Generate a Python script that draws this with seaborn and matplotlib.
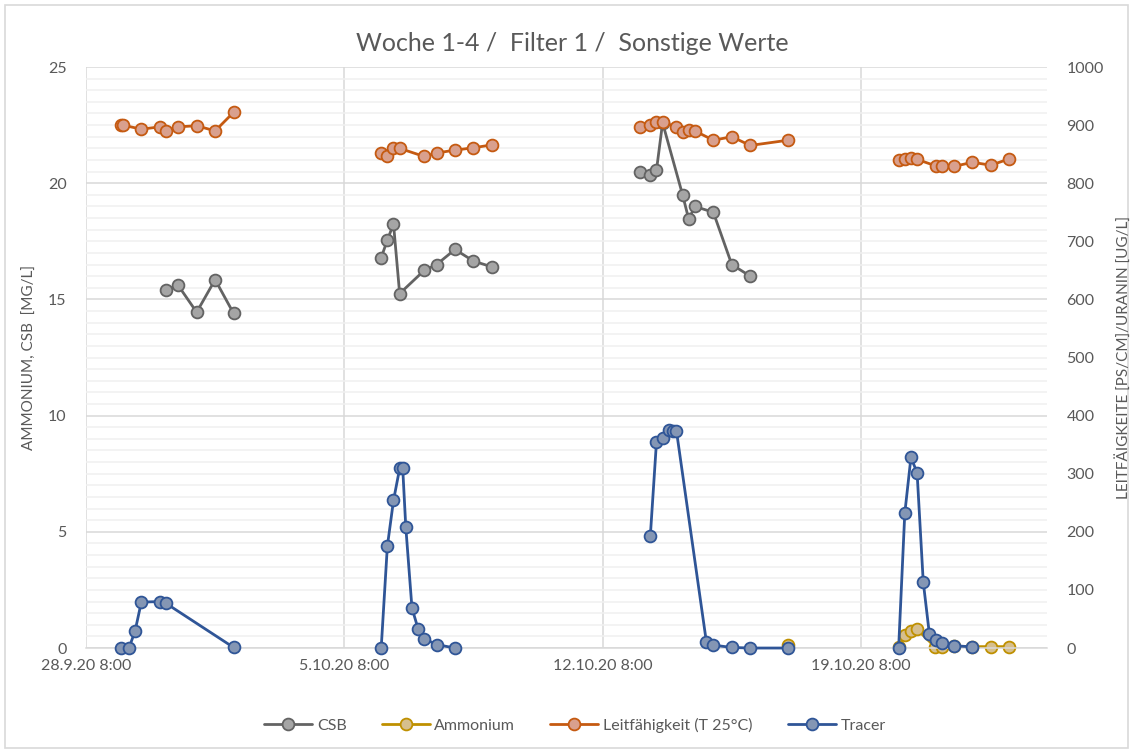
import matplotlib
matplotlib.use("Agg")
import matplotlib.pyplot as plt
import matplotlib.dates as mdates
from matplotlib.ticker import MultipleLocator, FixedLocator
from matplotlib.lines import Line2D
from matplotlib.patches import Rectangle
import pandas as pd
import seaborn as sns

# ---------------- data ----------------
csb_time = ["2020-09-30 12:00", "2020-09-30 20:00", "2020-10-01 08:00", "2020-10-01 20:00", "2020-10-02 08:00",
            "2020-10-06 08:00", "2020-10-06 12:00", "2020-10-06 16:00", "2020-10-06 20:00", "2020-10-07 12:00",
            "2020-10-07 20:00", "2020-10-08 08:00", "2020-10-08 20:00", "2020-10-09 08:00",
            "2020-10-13 08:00", "2020-10-13 15:00", "2020-10-13 19:00", "2020-10-13 23:00", "2020-10-14 12:00",
            "2020-10-14 16:00", "2020-10-14 20:00", "2020-10-15 08:00", "2020-10-15 20:00", "2020-10-16 08:00"]
csb_vals = [15.4, 15.6, 14.45, 15.85, 14.4,
            16.8, 17.55, 18.25, 15.25, 16.25, 16.5, 17.15, 16.65, 16.4,
            20.5, 20.35, 20.55, 22.6, 19.5, 18.45, 19.0, 18.75, 16.5, 16.0]

amm_time = ["2020-10-17 08:30",
            "2020-10-20 08:30", "2020-10-20 12:30", "2020-10-20 16:30", "2020-10-20 20:30", "2020-10-21 08:00",
            "2020-10-21 12:30", "2020-10-21 20:30", "2020-10-22 08:30", "2020-10-22 20:30", "2020-10-23 08:30"]
amm_vals = [0.15,
            0.06, 0.55, 0.75, 0.8, 0.06, 0.06, 0.08, 0.06, 0.06, 0.06]

lf_time = ["2020-09-29 06:30", "2020-09-29 08:00", "2020-09-29 20:00", "2020-09-30 08:00", "2020-09-30 12:00",
           "2020-09-30 20:00", "2020-10-01 08:00", "2020-10-01 20:00", "2020-10-02 08:00",
           "2020-10-06 08:00", "2020-10-06 12:00", "2020-10-06 16:00", "2020-10-06 20:00", "2020-10-07 12:00",
           "2020-10-07 20:00", "2020-10-08 08:00", "2020-10-08 20:00", "2020-10-09 08:00",
           "2020-10-13 08:00", "2020-10-13 15:00", "2020-10-13 19:00", "2020-10-13 23:00", "2020-10-14 08:00",
           "2020-10-14 12:00", "2020-10-14 16:00", "2020-10-14 20:00", "2020-10-15 08:00", "2020-10-15 20:00",
           "2020-10-16 08:00", "2020-10-17 08:30",
           "2020-10-20 08:30", "2020-10-20 12:30", "2020-10-20 16:30", "2020-10-20 20:30", "2020-10-21 08:30",
           "2020-10-21 12:30", "2020-10-21 20:30", "2020-10-22 08:30", "2020-10-22 20:30", "2020-10-23 08:30"]
lf_vals = [900, 900, 893, 897, 890, 897, 899, 890, 922,
           852, 847, 860, 860, 846, 852, 857, 861, 866,
           896, 901, 905, 905, 897, 889, 892, 890, 874, 880, 865, 874,
           840, 841, 843, 841, 830, 830, 829, 836, 831, 842]

tr_time = ["2020-09-29 07:00", "2020-09-29 12:00", "2020-09-29 16:00", "2020-09-29 20:00", "2020-09-30 08:00",
           "2020-09-30 12:00", "2020-10-02 08:00",
           "2020-10-06 08:00", "2020-10-06 12:00", "2020-10-06 16:00", "2020-10-06 20:00", "2020-10-06 22:00",
           "2020-10-07 00:00", "2020-10-07 04:00", "2020-10-07 08:00", "2020-10-07 12:00", "2020-10-07 20:00",
           "2020-10-08 08:00",
           "2020-10-13 15:00", "2020-10-13 19:00", "2020-10-13 23:00", "2020-10-14 03:00", "2020-10-14 06:00",
           "2020-10-14 08:00", "2020-10-15 03:30", "2020-10-15 08:00", "2020-10-15 20:00", "2020-10-16 08:00",
           "2020-10-17 08:30",
           "2020-10-20 08:30", "2020-10-20 12:30", "2020-10-20 16:30", "2020-10-20 20:30", "2020-10-21 00:30",
           "2020-10-21 04:30", "2020-10-21 08:30", "2020-10-21 12:30", "2020-10-21 20:30", "2020-10-22 08:30"]
tr_vals = [0, 0, 30, 79, 80, 77, 1,
           0, 175, 254, 309, 309, 208, 69, 33, 16, 6, 0,
           192, 354, 361, 376, 374, 374, 10, 5, 1, 0, 0,
           0, 232, 328, 302, 114, 24, 13, 8, 4, 2]

x_start = "2020-09-28 08:00"
x_end = "2020-10-24 09:00"
x_tick_labels = ["28.9.20 8:00", "5.10.20 8:00", "12.10.20 8:00", "19.10.20 8:00"]

title = "Woche 1-4 /  Filter 1 /  Sonstige Werte"
left_label = "AMMONIUM, CSB  [MG/L]"
right_label = "LEITFÄIGKEITE [PS/CM]/URANIN [UG/L]"

# ---------------- styling ----------------
sns.set_theme(style="white")
plt.rcParams['font.family'] = ['Lato', 'DejaVu Sans']
TXT = "#595959"
GRID = "#d9d9d9"
MINOR = "#f0f0f0"

styles = {
    "CSB": dict(color="#636363", mfc="#a5a5a5", mec="#636363"),
    "Ammonium": dict(color="#bf9000", mfc="#d6bf8e", mec="#bf9000"),
    "Leitfähigkeit (T 25°C)": dict(color="#c55a11", mfc="#d9a08e", mec="#c55a11"),
    "Tracer": dict(color="#2f5597", mfc="#8496b4", mec="#2f5597"),
}

t0 = pd.Timestamp(x_start)


def make_df(times, vals):
    df = pd.DataFrame({"t": pd.to_datetime(times), "v": vals})
    df["week"] = ((df["t"] - t0) / pd.Timedelta(days=7)).astype(int)
    return df


fig = plt.figure(figsize=(11.34, 7.53), dpi=100)
fig.patch.set_facecolor("white")
ax = fig.add_axes([0.0758, 0.1394, 0.8475, 0.7716])
ax2 = ax.twinx()

ax.set_zorder(1)
ax2.set_zorder(2)
ax2.patch.set_visible(False)

LW = 2.0
MS = 8.5
MEW = 1.3


def draw(axis, name, times, vals):
    st = styles[name]
    df = make_df(times, vals)
    sns.lineplot(data=df, x="t", y="v", units="week", estimator=None, ax=axis,
                 color=st["color"], lw=LW, marker="o", markersize=MS,
                 markerfacecolor=st["mfc"], markeredgecolor=st["mec"], markeredgewidth=MEW,
                 legend=False, sort=True, clip_on=False)


draw(ax, "CSB", csb_time, csb_vals)
draw(ax, "Ammonium", amm_time, amm_vals)
draw(ax2, "Leitfähigkeit (T 25°C)", lf_time, lf_vals)
draw(ax2, "Tracer", tr_time, tr_vals)

# axes limits and ticks
ax.set_xlim(pd.Timestamp(x_start), pd.Timestamp(x_end))
ax.set_ylim(0, 25)
ax2.set_ylim(0, 1000)

tick_pos = [pd.Timestamp(x_start) + pd.Timedelta(days=7 * i) for i in range(len(x_tick_labels))]
ax.xaxis.set_major_locator(FixedLocator(mdates.date2num(tick_pos)))
ax.set_xticklabels(x_tick_labels)
ax.yaxis.set_major_locator(MultipleLocator(5))
ax.yaxis.set_minor_locator(MultipleLocator(0.5))
ax2.yaxis.set_major_locator(MultipleLocator(100))

ax.grid(True, which="major", axis="both", color=GRID, lw=1.1, zorder=0)
ax.grid(True, which="minor", axis="y", color=MINOR, lw=1.1, zorder=0)
ax.set_axisbelow(True)
ax2.grid(False)

for a in (ax, ax2):
    for s in a.spines.values():
        s.set_visible(False)
ax.spines["bottom"].set_visible(True)
ax.spines["bottom"].set_color(GRID)
ax.spines["bottom"].set_linewidth(1.1)

ax.tick_params(axis="both", which="both", length=0, colors=TXT, labelsize=11.5)
ax.tick_params(axis="x", pad=8)
ax.tick_params(axis="y", pad=14)
ax2.tick_params(axis="y", which="both", length=0, colors=TXT, labelsize=11.5, pad=14)

ax.set_xlabel("")
ax.set_ylabel(left_label, color=TXT, fontsize=11, labelpad=8)
ax2.set_ylabel(right_label, color=TXT, fontsize=11, labelpad=8, rotation=90)

fig.text(0.505, 0.942, title, ha="center", va="center", color=TXT, fontsize=18)

handles = [Line2D([0], [0], color=st["color"], lw=LW, marker="o", markersize=MS,
                  markerfacecolor=st["mfc"], markeredgecolor=st["mec"], markeredgewidth=MEW)
           for st in styles.values()]
leg = fig.legend(handles, list(styles.keys()), loc="center", bbox_to_anchor=(0.507, 0.037),
                 ncol=4, frameon=False, fontsize=11.5, handlelength=3.0, handletextpad=0.3,
                 columnspacing=2.2)
for t in leg.get_texts():
    t.set_color(TXT)

fig.add_artist(Rectangle((0.004, 0.006), 0.991, 0.988, transform=fig.transFigure,
                         fill=False, edgecolor=GRID, lw=1.2))

fig.savefig("out.png", dpi=100, facecolor="white")
